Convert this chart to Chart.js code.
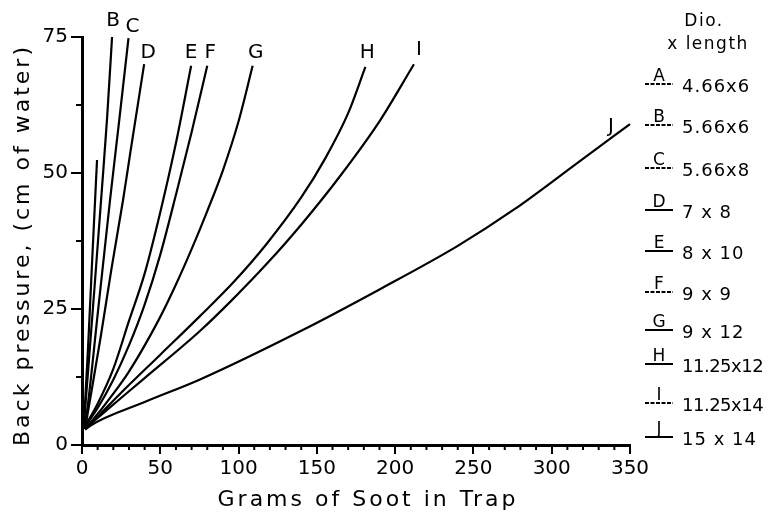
<!DOCTYPE html>
<html>
<head>
<meta charset="utf-8">
<script src="https://cdn.jsdelivr.net/npm/chart.js@4.4.1/dist/chart.umd.min.js"></script>
<style>
  html, body { margin: 0; padding: 0; background: #fff; }
  #wrap { width: 773px; height: 520px; position: relative; }
</style>
</head>
<body>
<div id="wrap"><canvas id="myChart"></canvas></div>
<script>
// trap curves (x = grams of soot, y = back pressure cm water)
const curveNames = ['A', 'B', 'C', 'D', 'E', 'F', 'G', 'H', 'I', 'J'];
const trapSizes = ['4.66x6', '5.66x6', '5.66x8', '7 x 8', '8 x 10', '9 x 9', '9 x 12', '11.25x12', '11.25x14', '15 x 14'];

const xTicks = [0, 50, 100, 150, 200, 250, 300, 350];
const yTicks = [0, 25, 50, 75];
const xMinor = [10, 20, 30, 40, 60, 70, 80, 90, 110, 120, 130, 140, 160, 170, 180, 190, 210, 220, 230, 240, 260, 270, 280, 290, 310, 320, 330, 340];
const yMinor = [12.5, 37.5, 62.5];

const aX = [1, 2, 3.8, 6.5, 9.6];
const aY = [3, 8, 17.5, 34, 52.4];
const bX = [1, 4, 8, 12.7, 16, 19.2];
const bY = [3, 14, 29, 47, 60, 75];
const cX = [1.5, 3.5, 10, 17.9, 23.5, 29.7];
const cY = [3, 6.8, 24, 45, 59, 74.8];
const dX = [2, 4, 12, 19, 26.2, 31, 39.7];
const dY = [3, 6.4, 20, 32.7, 45, 54, 70];
const eX = [2, 10, 20, 30, 40, 50, 60, 69.7];
const eY = [3.5, 7.6, 14, 22.8, 31.5, 42.8, 55.5, 69.7];
const fX = [2, 10, 20, 30, 40, 50, 60, 70, 80];
const fY = [3.4, 6.8, 12, 18.3, 25.8, 35, 46, 57.5, 69.7];
const gX = [2, 8, 17, 30, 49, 60, 70, 80, 90, 100, 109];
const gY = [3, 5, 8.3, 13.5, 23, 29.5, 36, 43, 50.5, 59.5, 69.7];
const hX = [2, 12, 25, 50, 75, 97, 118, 140, 155, 170, 181];
const hY = [3, 5.8, 9.6, 16.6, 23.6, 30, 37, 45.5, 52.5, 61, 69.5];
const iX = [2, 10, 40, 75.5, 97, 118, 140, 165, 190, 212];
const iY = [3, 5, 12.3, 21, 27, 33.3, 40.5, 49.5, 59.5, 70];
const jX = [2, 5, 40, 75, 140, 190, 240, 276, 318, 350];
const jY = [2.8, 3.5, 7.9, 12, 21, 28.6, 36.6, 43.3, 52.2, 59];

const curveX = [aX, bX, cX, dX, eX, fX, gX, hX, iX, jX];
const curveY = [aY, bY, cY, dY, eY, fY, gY, hY, iY, jY];

// where the letter sits relative to the end of its curve (px), A has none
const labelDx = [null, 1, 4, 4, 0, 3, 3, 2, 5, -19];
const labelDy = [null, -16, -11, -11, -13, -13, -13, -14, -14, 3];
// key on the right
const keyLineY = [84, 125, 168, 210, 251, 292, 330, 364, 403, 437];
const keyDotted = [true, true, true, false, false, true, false, false, true, false];

const FONT = "'DejaVu Sans', sans-serif";

const datasets = curveNames.map(function (name, n) {
  return {
    label: name,
    data: curveX[n].map((x, k) => ({ x: x, y: curveY[n][k] })),
    showLine: true,
    borderColor: '#000',
    borderWidth: 2.2,
    pointRadius: 0,
    fill: false,
    cubicInterpolationMode: 'monotone',
    clip: false,
  };
});

const spaced = function (ctx, text, x, y, spacing) {
  ctx.letterSpacing = spacing + 'px';
  ctx.fillText(text, x, y);
  ctx.letterSpacing = '0px';
};

const decorPlugin = {
  id: 'decor',
  afterDraw(chart) {
    const ctx = chart.ctx;
    const xs = chart.scales.x;
    const ys = chart.scales.y;
    const area = chart.chartArea;
    ctx.save();
    ctx.strokeStyle = '#000';
    ctx.fillStyle = '#000';
    ctx.lineWidth = 2;

    // minor ticks
    xMinor.forEach(function (v) {
      const px = xs.getPixelForValue(v);
      ctx.beginPath();
      ctx.moveTo(px, area.bottom);
      ctx.lineTo(px, area.bottom + 5);
      ctx.stroke();
    });
    yMinor.forEach(function (v) {
      const py = ys.getPixelForValue(v);
      ctx.beginPath();
      ctx.moveTo(area.left, py);
      ctx.lineTo(area.left - 6, py);
      ctx.stroke();
    });

    // curve letters
    ctx.font = '20px ' + FONT;
    ctx.textAlign = 'center';
    ctx.textBaseline = 'middle';
    curveNames.forEach(function (name, n) {
      if (labelDx[n] === null) return;
      const last = curveX[n].length - 1;
      const px = xs.getPixelForValue(curveX[n][last]) + labelDx[n];
      const py = ys.getPixelForValue(curveY[n][last]) + labelDy[n];
      ctx.fillText(name, px, py);
    });

    // axis titles
    ctx.font = '22px ' + FONT;
    spaced(ctx, 'Grams of Soot in Trap', 368, 500, 3);
    ctx.save();
    ctx.translate(23, 245);
    ctx.rotate(-Math.PI / 2);
    spaced(ctx, 'Back pressure, (cm of water)', 0, 0, 3);
    ctx.restore();

    // key
    ctx.font = '17px ' + FONT;
    spaced(ctx, 'Dio.', 704, 22, 1.5);
    spaced(ctx, 'x length', 708, 45, 1.5);
    curveNames.forEach(function (name, n) {
      const ly = keyLineY[n];
      ctx.lineWidth = 2;
      ctx.setLineDash(keyDotted[n] ? [4, 1.5] : []);
      ctx.beginPath();
      ctx.moveTo(645, ly);
      ctx.lineTo(673, ly);
      ctx.stroke();
      ctx.setLineDash([]);
      ctx.font = '17px ' + FONT;
      ctx.textAlign = 'center';
      ctx.textBaseline = 'alphabetic';
      ctx.fillText(name, 659, ly - 3);
      ctx.font = '18px ' + FONT;
      ctx.textAlign = 'left';
      ctx.textBaseline = 'middle';
      spaced(ctx, trapSizes[n], 682, ly + 3, trapSizes[n].length > 7 ? -0.5 : 1);
    });
    ctx.restore();
  },
};

const myChart = new Chart(document.getElementById('myChart').getContext('2d'), {
  type: 'scatter',
  data: { datasets: datasets },
  plugins: [decorPlugin],
  options: {
    responsive: true,
    maintainAspectRatio: false,
    animation: false,
    layout: { padding: { top: 37, right: 143, left: 0, bottom: 0 } },
    plugins: { legend: { display: false }, tooltip: { enabled: false } },
    scales: {
      x: {
        type: 'linear',
        min: 0,
        max: 350,
        afterBuildTicks: function (scale) {
          scale.ticks = xTicks.map(v => ({ value: v }));
        },
        afterFit: function (scale) {
          scale.height = 75;
        },
        ticks: { color: '#000', font: { family: FONT, size: 20 }, padding: 3, maxRotation: 0, autoSkip: false },
        grid: { drawOnChartArea: false, drawTicks: true, tickLength: 9, color: '#000', lineWidth: 2 },
        border: { color: '#000', width: 3 },
      },
      y: {
        type: 'linear',
        min: 0,
        max: 75,
        afterBuildTicks: function (scale) {
          scale.ticks = yTicks.map(v => ({ value: v }));
        },
        afterFit: function (scale) {
          scale.width = 82;
        },
        ticks: { color: '#000', font: { family: FONT, size: 20 }, padding: 3, autoSkip: false },
        grid: { drawOnChartArea: false, drawTicks: true, tickLength: 11, color: '#000', lineWidth: 2 },
        border: { color: '#000', width: 3 },
      },
    },
  },
});
</script>
</body>
</html>
